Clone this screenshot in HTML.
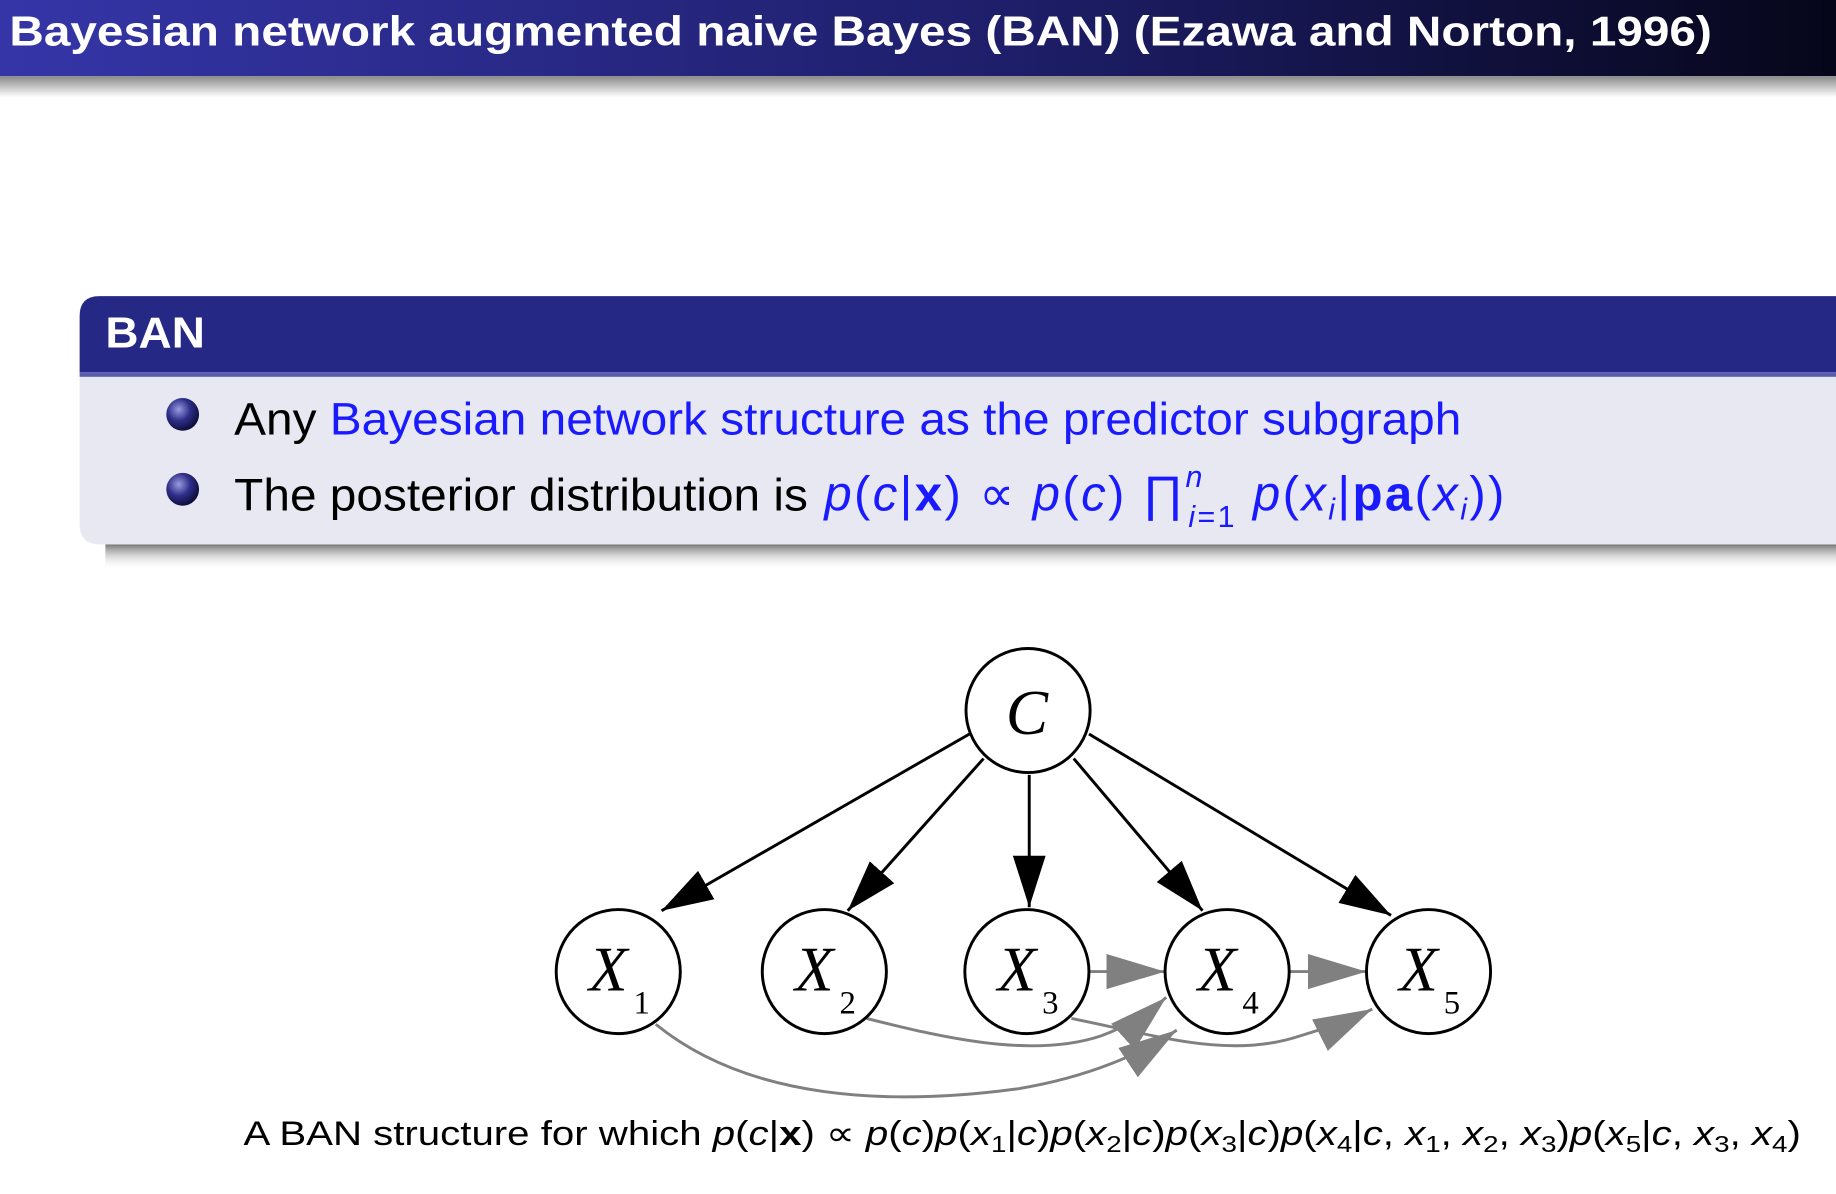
<!DOCTYPE html>
<html><head><meta charset="utf-8"><style>
html,body{margin:0;padding:0;background:#fff;}
svg{display:block;}
text{font-family:"Liberation Sans",sans-serif;}
.it{font-style:italic;}
.ser{font-family:"Liberation Serif",serif;font-style:italic;}
.sub{font-family:"Liberation Serif",serif;}
</style></head><body>
<svg width="1836" height="1194" viewBox="0 0 1568 1020" preserveAspectRatio="none" xmlns="http://www.w3.org/2000/svg">
<defs>
<linearGradient id="tb" x1="0" x2="1" y1="0" y2="0"><stop offset="0" stop-color="#3535a8"/><stop offset="0.55" stop-color="#1e1e6a"/><stop offset="1" stop-color="#06061a"/></linearGradient>
<linearGradient id="sh" x1="0" x2="0" y1="0" y2="1"><stop offset="0" stop-color="#888"/><stop offset="1" stop-color="#fff"/></linearGradient>
<linearGradient id="sh2" x1="0" x2="0" y1="0" y2="1"><stop offset="0" stop-color="#777"/><stop offset="1" stop-color="#fff" stop-opacity="0"/></linearGradient>
<radialGradient id="ball" cx="0.38" cy="0.35" r="0.7"><stop offset="0" stop-color="#9a9ae0"/><stop offset="0.5" stop-color="#2e2e8a"/><stop offset="1" stop-color="#0a0a30"/></radialGradient>
<marker id="ab" markerUnits="userSpaceOnUse" markerWidth="46" markerHeight="30" refX="44" refY="15" orient="auto"><path d="M0,1 L44,15 L0,29 Z" fill="#000"/></marker>
<marker id="ag" markerUnits="userSpaceOnUse" markerWidth="52" markerHeight="32" refX="50" refY="16" orient="auto"><path d="M0,1 L50,16 L0,31 Z" fill="#808080"/></marker>
</defs>
<rect x="0" y="0" width="1568" height="65" fill="url(#tb)"/>
<rect x="0" y="65" width="1568" height="18" fill="url(#sh)"/>
<text x="8" y="39" font-size="36" font-weight="bold" fill="#fff" textLength="1454" lengthAdjust="spacingAndGlyphs">Bayesian network augmented naive Bayes (BAN) (Ezawa and Norton, 1996)</text>
<rect x="90" y="465" width="1478" height="22" fill="url(#sh2)"/>
<path d="M68,318 L68,270 Q68,253 85,253 L1568,253 L1568,318 Z" fill="#262885"/>
<rect x="68" y="318" width="1500" height="4" fill="#5a5cb0"/>
<path d="M68,322 L1568,322 L1568,465 L85,465 Q68,465 68,448 Z" fill="#e8e8f2"/>
<text x="90" y="297" font-size="37" font-weight="bold" fill="#fff" textLength="85" lengthAdjust="spacingAndGlyphs">BAN</text>
<circle cx="156" cy="354" r="14" fill="url(#ball)"/>
<circle cx="156" cy="418" r="14" fill="url(#ball)"/>
<text x="200" y="371" font-size="39" fill="#000" textLength="1048" lengthAdjust="spacingAndGlyphs">Any <tspan fill="#1a1aff">Bayesian network structure as the predictor subgraph</tspan></text>
<text x="200" y="436" font-size="39" fill="#000" textLength="490" lengthAdjust="spacingAndGlyphs">The posterior distribution is</text>
<text x="704" y="436" font-size="42" fill="#1a1aff" letter-spacing="2"><tspan class="it">p</tspan>(<tspan class="it">c</tspan>|<tspan font-weight="bold">x</tspan>) ∝ <tspan class="it">p</tspan>(<tspan class="it">c</tspan>) ∏<tspan class="it" font-size="26" dy="-20">n</tspan><tspan class="it" font-size="26" dx="-14" dy="34">i</tspan><tspan font-size="26">=1</tspan><tspan dy="-14"> </tspan><tspan class="it">p</tspan>(<tspan class="it">x</tspan><tspan class="it" font-size="26" dy="8">i</tspan><tspan dy="-8">|</tspan><tspan font-weight="bold">pa</tspan>(<tspan class="it">x</tspan><tspan class="it" font-size="26" dy="8">i</tspan><tspan dy="-8">))</tspan></text>
<g stroke="#000" stroke-width="2.5" fill="none">
<line x1="828" y1="627" x2="565" y2="778" marker-end="url(#ab)"/>
<line x1="840" y1="648" x2="724" y2="778" marker-end="url(#ab)"/>
<line x1="879" y1="662" x2="879" y2="775" marker-end="url(#ab)"/>
<line x1="917" y1="648" x2="1027" y2="778" marker-end="url(#ab)"/>
<line x1="930" y1="627" x2="1188" y2="782" marker-end="url(#ab)"/>
</g>
<g stroke="#808080" stroke-width="2.5" fill="none">
<line x1="931" y1="830" x2="995" y2="830" marker-end="url(#ag)"/>
<line x1="1102" y1="830" x2="1167" y2="830" marker-end="url(#ag)"/>
<path d="M740,870 C800,885 880,905 940,885 C965,876 985,862 996,852" marker-end="url(#ag)"/>
<path d="M915,870 C990,885 1050,905 1110,885 C1140,876 1160,868 1172,862" marker-end="url(#ag)"/>
<path d="M560,875 C640,940 760,945 870,930 C930,920 975,900 1005,880" marker-end="url(#ag)"/>
</g>
<g stroke="#000" stroke-width="2.5" fill="#fff">
<circle cx="878" cy="607" r="53"/>
<circle cx="528" cy="830" r="53"/>
<circle cx="704" cy="830" r="53"/>
<circle cx="877" cy="830" r="53"/>
<circle cx="1048" cy="830" r="53"/>
<circle cx="1220" cy="830" r="53"/>
</g>
<g font-size="54" fill="#000">
<text class="ser" x="859" y="627">C</text>
<text class="ser" x="503" y="846">X</text><text class="sub" x="541" y="866" font-size="28">1</text>
<text class="ser" x="679" y="846">X</text><text class="sub" x="717" y="866" font-size="28">2</text>
<text class="ser" x="852" y="846">X</text><text class="sub" x="890" y="866" font-size="28">3</text>
<text class="ser" x="1023" y="846">X</text><text class="sub" x="1061" y="866" font-size="28">4</text>
<text class="ser" x="1195" y="846">X</text><text class="sub" x="1233" y="866" font-size="28">5</text>
</g>
<text x="208" y="978" font-size="29" fill="#000" textLength="1330" lengthAdjust="spacingAndGlyphs">A BAN structure for which <tspan class="it">p</tspan>(<tspan class="it">c</tspan>|<tspan font-weight="bold">x</tspan>) ∝ <tspan class="it">p</tspan>(<tspan class="it">c</tspan>)<tspan class="it">p</tspan>(<tspan class="it">x</tspan><tspan font-size="20" dy="6">1</tspan><tspan dy="-6">|</tspan><tspan class="it">c</tspan>)<tspan class="it">p</tspan>(<tspan class="it">x</tspan><tspan font-size="20" dy="6">2</tspan><tspan dy="-6">|</tspan><tspan class="it">c</tspan>)<tspan class="it">p</tspan>(<tspan class="it">x</tspan><tspan font-size="20" dy="6">3</tspan><tspan dy="-6">|</tspan><tspan class="it">c</tspan>)<tspan class="it">p</tspan>(<tspan class="it">x</tspan><tspan font-size="20" dy="6">4</tspan><tspan dy="-6">|</tspan><tspan class="it">c</tspan>, <tspan class="it">x</tspan><tspan font-size="20" dy="6">1</tspan><tspan dy="-6">, </tspan><tspan class="it">x</tspan><tspan font-size="20" dy="6">2</tspan><tspan dy="-6">, </tspan><tspan class="it">x</tspan><tspan font-size="20" dy="6">3</tspan><tspan dy="-6">)</tspan><tspan class="it">p</tspan>(<tspan class="it">x</tspan><tspan font-size="20" dy="6">5</tspan><tspan dy="-6">|</tspan><tspan class="it">c</tspan>, <tspan class="it">x</tspan><tspan font-size="20" dy="6">3</tspan><tspan dy="-6">, </tspan><tspan class="it">x</tspan><tspan font-size="20" dy="6">4</tspan><tspan dy="-6">)</tspan></text>
</svg>
</body></html>
